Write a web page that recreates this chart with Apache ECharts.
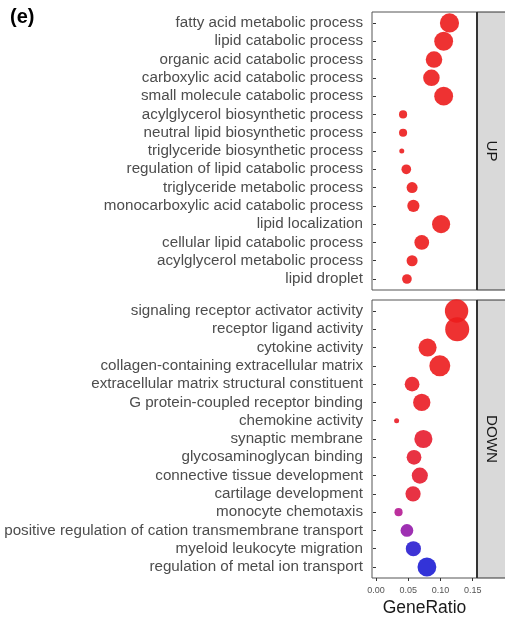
<!DOCTYPE html>
<html>
<head>
<meta charset="utf-8">
<script src="https://cdn.jsdelivr.net/npm/echarts@6/dist/echarts.min.js"></script>
<style>
html,body{margin:0;padding:0;background:#fff;}
#chart{width:505px;height:620px;}
</style>
</head>
<body>
<div id="chart"></div>
<script>
// ---- data ----
const upTerms = [
  'fatty acid metabolic process','lipid catabolic process','organic acid catabolic process',
  'carboxylic acid catabolic process','small molecule catabolic process','acylglycerol biosynthetic process',
  'neutral lipid biosynthetic process','triglyceride biosynthetic process','regulation of lipid catabolic process',
  'triglyceride metabolic process','monocarboxylic acid catabolic process','lipid localization',
  'cellular lipid catabolic process','acylglycerol metabolic process','lipid droplet'
];
const upRatio = [0.114,0.105,0.090,0.086,0.105,0.042,0.042,0.040,0.047,0.056,0.058,0.101,0.071,0.056,0.048];
const upCount = [35,34,28,28,34,13,13,10,15,17,19,32,24,17,15];
const upPadj  = [0.00001,0.00001,0.00001,0.00001,0.00001,0.00002,0.00002,0.00003,0.00003,0.00002,0.00002,0.00001,0.00001,0.00002,0.00003];

const downTerms = [
  'signaling receptor activator activity','receptor ligand activity','cytokine activity',
  'collagen-containing extracellular matrix','extracellular matrix structural constituent',
  'G protein-coupled receptor binding','chemokine activity','synaptic membrane',
  'glycosaminoglycan binding','connective tissue development','cartilage development',
  'monocyte chemotaxis','positive regulation of cation transmembrane transport',
  'myeloid leukocyte migration','regulation of metal ion transport'
];
const downRatio = [0.125,0.126,0.080,0.099,0.056,0.071,0.032,0.0735,0.059,0.068,0.0575,0.035,0.048,0.058,0.079];
const downCount = [48,50,32,40,24,30,10,32,24,27,25,13,20,25,34];
const downPadj  = [0.00001,0.00001,0.00005,0.00005,0.0003,0.0003,0.0004,0.0007,0.0008,0.0008,0.0008,0.0021,0.0029,0.0039,0.0040];

const xTicks = [0, 0.05, 0.10, 0.15];
const panels = ['UP', 'DOWN'];

// ---- chart ----
const idx = upTerms.map((_, i) => i + 1);
function sizeOf(c) { return Math.sqrt(25 + (c - 10) / 40 * 551); }
function build(ratio, count, padj) {
  return ratio.map((r, i) => [r, i + 1, count[i], padj[i]]);
}

const chart = echarts.init(document.getElementById('chart'), null, {renderer: 'canvas'});
const FONT = '"Liberation Sans", Arial, sans-serif';
const G = [{top: 12}, {top: 300}];
const grids = G.map(g => ({
  left: 372, top: g.top, width: 105, height: 278,
  show: true, borderColor: '#555', borderWidth: 1, backgroundColor: '#fff'
}));

function yAx(i, terms) {
  return {
    type: 'value', gridIndex: i, min: 0.4, max: 15.6, inverse: true,
    axisLine: {show: false}, splitLine: {show: false},
    axisTick: {show: true, length: 3, customValues: idx, lineStyle: {color: '#333', width: 1}},
    axisLabel: {customValues: idx, formatter: v => terms[Math.round(v) - 1],
      fontSize: 15.2, color: '#4d4d4d', margin: 9, fontFamily: FONT}
  };
}

const option = {
  animation: false,
  grid: grids,
  xAxis: [
    {type: 'value', gridIndex: 0, min: -0.0062, max: 0.1567, show: false},
    {type: 'value', gridIndex: 1, min: -0.0062, max: 0.1567,
      axisLine: {show: false}, splitLine: {show: false},
      axisTick: {show: true, length: 3, customValues: xTicks, lineStyle: {color: '#333'}},
      axisLabel: {customValues: xTicks, formatter: v => v.toFixed(2), fontSize: 9,
        color: '#555', margin: 8, fontFamily: FONT},
      name: 'GeneRatio', nameLocation: 'middle', nameGap: 21,
      nameTextStyle: {fontSize: 17.5, color: '#1a1a1a', fontFamily: FONT}}
  ],
  yAxis: [yAx(0, upTerms), yAx(1, downTerms)],
  visualMap: [{
    type: 'continuous', show: false, dimension: 3, min: 0, max: 0.004, seriesIndex: [0, 1],
    inRange: {color: ['#EC1C1C', '#E51C34', '#B9198F', '#9019AD', '#1D1DD4']}
  }],
  series: [
    {type: 'scatter', xAxisIndex: 0, yAxisIndex: 0, data: build(upRatio, upCount, upPadj),
      symbolSize: v => sizeOf(v[2]), itemStyle: {opacity: 0.9}},
    {type: 'scatter', xAxisIndex: 1, yAxisIndex: 1, data: build(downRatio, downCount, downPadj),
      symbolSize: v => sizeOf(v[2]), itemStyle: {opacity: 0.9}}
  ],
  graphic: [
    {type: 'text', left: 10, top: 7, style: {text: '(e)', font: 'bold 20px ' + FONT, fill: '#000'}}
  ]
};

G.forEach((g, i) => {
  option.graphic.push({type: 'rect', shape: {x: 477, y: g.top, width: 30, height: 278},
    style: {fill: '#D9D9D9', stroke: '#333', lineWidth: 1}, z: 10});
  option.graphic.push({type: 'line', shape: {x1: 477, y1: g.top, x2: 477, y2: g.top + 278},
    style: {stroke: '#333', lineWidth: 2}, z: 11});
  option.graphic.push({type: 'text', x: 491.5, y: g.top + 139, rotation: -Math.PI / 2,
    style: {text: panels[i], font: '15.2px ' + FONT, fill: '#1a1a1a', align: 'center', verticalAlign: 'middle'}, z: 12});
});

chart.setOption(option);
</script>
</body>
</html>
